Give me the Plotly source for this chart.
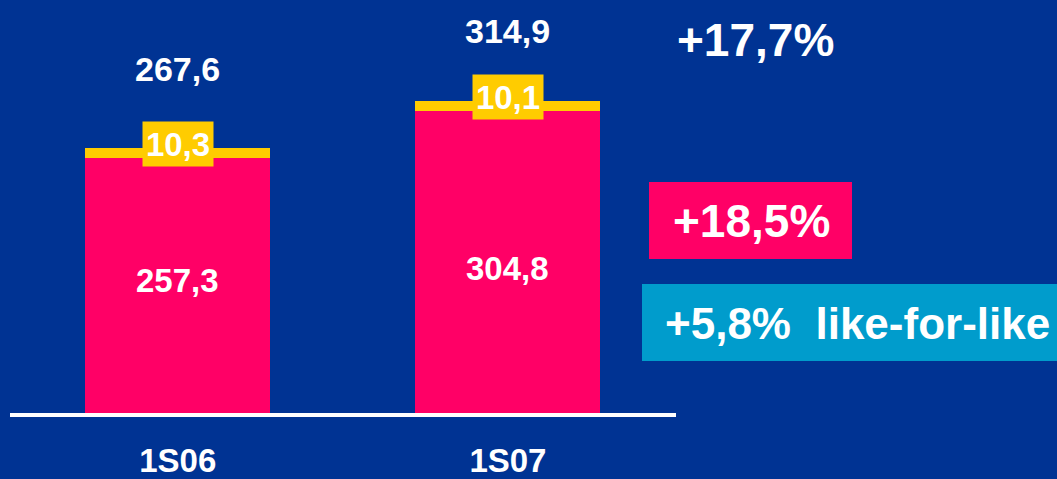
import plotly.graph_objects as go

categories = ["1S06", "1S07"]
base_values = [257.3, 304.8]
extra_values = [10.3, 10.1]
totals = [267.6, 314.9]
base_labels = ["257,3", "304,8"]
extra_labels = ["10,3", "10,1"]
total_labels = ["267,6", "314,9"]
growth_total = "+17,7%"
growth_reported = "+18,5%"
growth_lfl = "+5,8%  like-for-like"

BG = "#003393"
PINK = "#FF0066"
YELLOW = "#FFCC00"
CYAN = "#009CCC"
FONT = "Liberation Sans, Arial, sans-serif"

W, H = 1057, 479
L, R, T, B = 10, 381, 0, 66
PW, PH = W - L - R, H - T - B

def px(x):
    return (x - L) / PW

def py(y):
    return (H - B - y) / PH

fig = go.Figure()
fig.add_trace(go.Bar(x=[0, 1], y=base_values, marker=dict(color=PINK, line=dict(width=0)),
                     width=0.56, hoverinfo="skip"))
fig.add_trace(go.Bar(x=[0, 1], y=extra_values, marker=dict(color=YELLOW, line=dict(width=0)),
                     width=0.56, hoverinfo="skip"))

ann = []
total_shift = [58, 49]
for i in range(2):
    ann.append(dict(x=i, y=totals[i], text=total_labels[i], showarrow=False, xref="x", yref="y",
                    yanchor="bottom", yshift=total_shift[i],
                    font=dict(family=FONT, size=34, color="white", weight="bold")))
    ann.append(dict(x=i, y=totals[i], text=extra_labels[i], showarrow=False, xref="x", yref="y",
                    yanchor="middle", yshift=4, bgcolor=YELLOW, width=70, height=44, borderpad=0,
                    font=dict(family=FONT, size=33, color="white", weight="bold")))
inner_shift = [5, -6]
for i in range(2):
    ann.append(dict(x=i, y=base_values[i] / 2, text=base_labels[i], showarrow=False, xref="x", yref="y",
                    yanchor="middle", yshift=inner_shift[i],
                    font=dict(family=FONT, size=33, color="white", weight="bold")))

ann.append(dict(x=px(755), y=py(40), xref="paper", yref="paper", text=growth_total, showarrow=False,
                xanchor="center", yanchor="middle",
                font=dict(family=FONT, size=46, color="white", weight="bold")))
ann.append(dict(x=px(751), y=py(221), xref="paper", yref="paper", text=growth_reported, showarrow=False,
                xanchor="center", yanchor="middle",
                font=dict(family=FONT, size=46, color="white", weight="bold")))
ann.append(dict(x=px(663), y=py(323), xref="paper", yref="paper", text=growth_lfl, showarrow=False,
                xanchor="left", yanchor="middle",
                font=dict(family=FONT, size=44, color="white", weight="bold")))

shapes = [
    dict(type="rect", xref="paper", yref="paper", x0=px(649), x1=px(852), y0=py(259), y1=py(182),
         fillcolor=PINK, line=dict(width=0), layer="below"),
    dict(type="rect", xref="paper", yref="paper", x0=px(642), x1=px(1070), y0=py(361), y1=py(284),
         fillcolor=CYAN, line=dict(width=0), layer="below"),
]

fig.update_layout(
    width=W, height=H, barmode="stack", showlegend=False,
    paper_bgcolor=BG, plot_bgcolor=BG,
    margin=dict(l=L, r=R, t=T, b=B, pad=0, autoexpand=False),
    annotations=ann, shapes=shapes,
    xaxis=dict(range=[-0.508, 1.509], tickvals=[0, 1], ticktext=categories, automargin=False,
               showgrid=False, zeroline=False, showline=True, linecolor="white", linewidth=4,
               ticks="outside", ticklen=15, tickcolor="rgba(0,0,0,0)",
               tickfont=dict(family=FONT, size=33, color="white", weight="bold")),
    yaxis=dict(range=[0, 417.2], visible=False, showgrid=False, zeroline=False, automargin=False),
)

fig.write_html("out.html", config={"displayModeBar": False},
               post_script="document.body.style.margin='0';document.body.style.overflow='hidden';")
